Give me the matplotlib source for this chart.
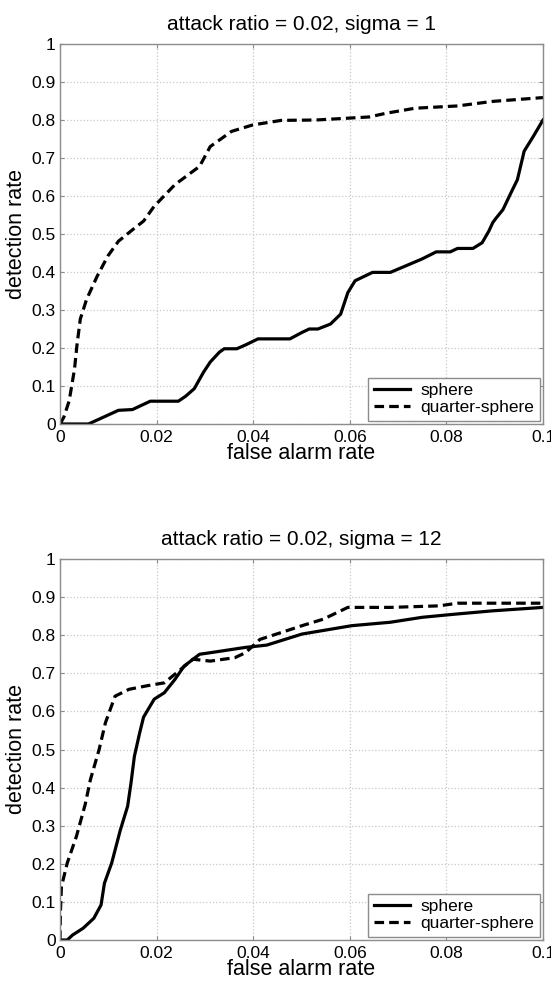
import numpy as np
import matplotlib
matplotlib.use("Agg")
import matplotlib.pyplot as plt

plt.rcParams['font.family'] = ['Liberation Sans', 'DejaVu Sans']

# ---- data (false alarm rate, detection rate) ----
titles = ["attack ratio = 0.02, sigma = 1", "attack ratio = 0.02, sigma = 12"]
labels = ["sphere", "quarter-sphere"]
x_ticks = [0, 0.02, 0.04, 0.06, 0.08, 0.1]
x_tick_labels = ["0", "0.02", "0.04", "0.06", "0.08", "0.1"]
y_ticks = [0, 0.1, 0.2, 0.3, 0.4, 0.5, 0.6, 0.7, 0.8, 0.9, 1]
y_tick_labels = ["0", "0.1", "0.2", "0.3", "0.4", "0.5", "0.6", "0.7", "0.8", "0.9", "1"]

# sigma = 1
s1_sphere_x = [0, 0.0059, 0.0121, 0.015, 0.0187, 0.0245, 0.026, 0.0278, 0.0297,
               0.0311, 0.033, 0.034, 0.0366, 0.0384, 0.041, 0.0476, 0.0501,
               0.0516, 0.0534, 0.056, 0.0581, 0.0596, 0.0611, 0.0647, 0.0684,
               0.0749, 0.0779, 0.0808, 0.0823, 0.0855, 0.0874, 0.0888, 0.0896,
               0.0903, 0.0917, 0.0932, 0.0947, 0.0961, 0.098, 0.1]
s1_sphere_y = [0, 0, 0.036, 0.038, 0.060, 0.060, 0.073, 0.093, 0.136,
               0.163, 0.189, 0.198, 0.198, 0.208, 0.224, 0.224, 0.241,
               0.25, 0.25, 0.263, 0.289, 0.346, 0.377, 0.399, 0.399,
               0.434, 0.453, 0.453, 0.462, 0.462, 0.477, 0.508, 0.530,
               0.542, 0.564, 0.604, 0.643, 0.718, 0.757, 0.80]
s1_quarter_x = [0, 0.0008, 0.0019, 0.003, 0.0035, 0.0042, 0.0055, 0.0077,
                0.0099, 0.0121, 0.0151, 0.0173, 0.0195, 0.0238, 0.0289,
                0.0311, 0.0355, 0.0399, 0.0458, 0.053, 0.064, 0.0676,
                0.0735, 0.0823, 0.0896, 0.1]
s1_quarter_y = [0, 0.018, 0.061, 0.144, 0.206, 0.276, 0.328, 0.389,
                0.442, 0.481, 0.512, 0.534, 0.573, 0.63, 0.678,
                0.73, 0.77, 0.787, 0.799, 0.80, 0.808, 0.818,
                0.831, 0.837, 0.849, 0.859]

# sigma = 12
s12_sphere_x = [0, 0.0015, 0.0026, 0.0048, 0.007, 0.0085, 0.0092, 0.0107,
                0.0125, 0.014, 0.0147, 0.0154, 0.0165, 0.0173, 0.0195,
                0.0216, 0.0238, 0.0257, 0.0289, 0.0311, 0.0384, 0.0428,
                0.0501, 0.0604, 0.0684, 0.075, 0.0816, 0.0896, 0.1]
s12_sphere_y = [0, 0, 0.013, 0.031, 0.057, 0.092, 0.149, 0.202,
                0.289, 0.351, 0.412, 0.482, 0.544, 0.585, 0.632,
                0.649, 0.684, 0.719, 0.75, 0.754, 0.768, 0.774,
                0.803, 0.825, 0.834, 0.847, 0.855, 0.864, 0.873]
s12_quarter_x = [0, 0.0001, 0.0003, 0.0015, 0.0034, 0.0052, 0.0063, 0.0081,
                 0.0094, 0.0114, 0.0143, 0.0179, 0.0216, 0.0246, 0.0275,
                 0.0311, 0.0362, 0.0384, 0.0414, 0.0458, 0.0501, 0.0545,
                 0.0596, 0.0684, 0.0785, 0.0823, 0.1]
s12_quarter_y = [0, 0.079, 0.14, 0.202, 0.272, 0.355, 0.421, 0.5,
                 0.57, 0.64, 0.658, 0.667, 0.675, 0.706, 0.737,
                 0.732, 0.741, 0.754, 0.789, 0.807, 0.825, 0.842,
                 0.873, 0.873, 0.877, 0.884, 0.884]

panels = [
    (titles[0], s1_sphere_x, s1_sphere_y, s1_quarter_x, s1_quarter_y),
    (titles[1], s12_sphere_x, s12_sphere_y, s12_quarter_x, s12_quarter_y),
]

fig = plt.figure(figsize=(5.51, 9.81), dpi=100)
rects = [
    [60 / 551, 1 - 424 / 981, 483 / 551, 380 / 981],
    [60 / 551, 1 - 940 / 981, 483 / 551, 381 / 981],
]

frame_col = "#8c8c8c"

for rect, (title, sx, sy, qx, qy) in zip(rects, panels):
    ax = fig.add_axes(rect)
    ax.plot(sx, sy, color="black", lw=2.3, label=labels[0])
    ax.plot(qx, qy, color="black", lw=2.3, linestyle=(0, (3.0, 1.6)),
            label=labels[1])

    ax.set_xlim(0, 0.1)
    ax.set_ylim(0, 1)
    ax.set_xticks(x_ticks)
    ax.set_xticklabels(x_tick_labels)
    ax.set_yticks(y_ticks)
    ax.set_yticklabels(y_tick_labels)

    ax.grid(True, linestyle=":", color="#c8c8c8", lw=0.9)
    for sp in ax.spines.values():
        sp.set_color(frame_col)
        sp.set_linewidth(1.0)
    ax.tick_params(axis="both", direction="in", length=3, width=0.8,
                   color=frame_col, labelsize=12.5, top=True, right=True)
    ax.tick_params(axis="x", pad=4)
    ax.tick_params(axis="y", pad=3)

    ax.set_title(title, fontsize=15, pad=10)
    ax.set_xlabel("false alarm rate", fontsize=15.5, labelpad=-1)
    ax.set_ylabel("detection rate", fontsize=15.5, labelpad=3)

    leg = ax.legend(loc="lower right", fontsize=12.5, frameon=True,
                    fancybox=False, framealpha=1, edgecolor=frame_col,
                    borderaxespad=0.2, handlelength=2.1, handletextpad=0.6,
                    labelspacing=0.1, borderpad=0.3)
    leg.get_frame().set_linewidth(1.0)

fig.savefig("out.png", dpi=100)
